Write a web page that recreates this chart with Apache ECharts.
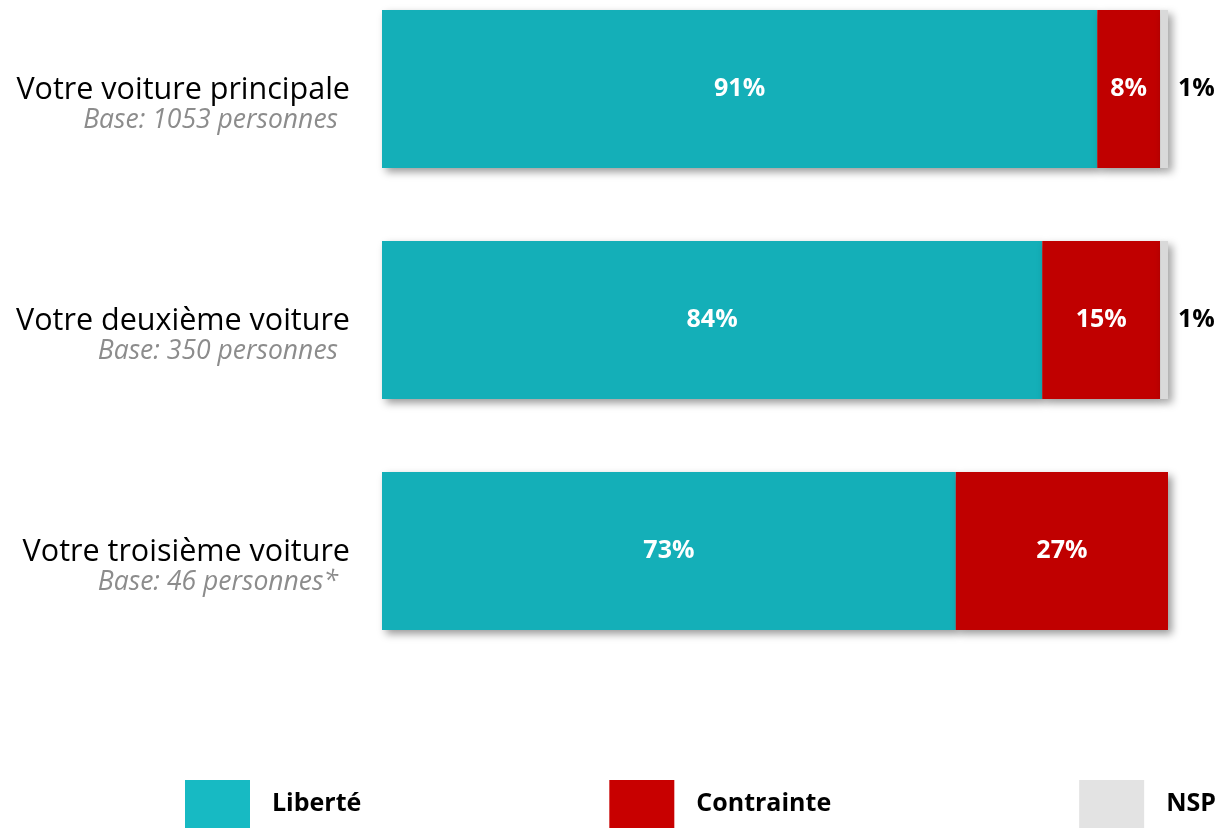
<!DOCTYPE html>
<html>
<head>
<meta charset="utf-8">
<script src="https://cdn.jsdelivr.net/npm/echarts@6/dist/echarts.min.js"></script>
<style>
  html, body { margin: 0; padding: 0; background: #fff; }
  #chart { width: 1218px; height: 830px; }
</style>
</head>
<body>
<div id="chart"></div>
<script>
// categories (top to bottom)
var voitures = ['Votre voiture principale', 'Votre deuxième voiture', 'Votre troisième voiture'];
var bases = ['Base: 1053 personnes', 'Base: 350 personnes', 'Base: 46 personnes*'];
var liberte = [91, 84, 73];
var contrainte = [8, 15, 27];
var nsp = [1, 1, null];

var FONT = 'Open Sans';
var shadow = {
  shadowBlur: 8,
  shadowOffsetX: 4,
  shadowOffsetY: 4,
  shadowColor: 'rgba(0,0,0,0.4)'
};

var chart = echarts.init(document.getElementById('chart'));
window.addEventListener('resize', () => { chart.resize(); });

chart.setOption({
  animation: false,
  grid: {
    left: 382,
    right: 50,
    top: -26.5,
    height: 693,
    containLabel: false,
    outerBoundsMode: 'none'
  },
  xAxis: {
    type: 'value',
    min: 0,
    max: 100,
    show: false
  },
  yAxis: {
    type: 'category',
    inverse: true,
    data: voitures,
    axisLine: { show: false },
    axisTick: { show: false },
    splitLine: { show: false },
    axisLabel: {
      margin: 32,
      padding: [32, 0, 0, 0],
      formatter: function (val, idx) {
        return '{a|' + val + '}\n{b|' + bases[idx] + '}';
      },
      rich: {
        a: { fontFamily: FONT, fontSize: 30.5, color: '#000', lineHeight: 30, align: 'right' },
        b: { fontFamily: FONT, fontSize: 26.5, fontStyle: 'italic', color: '#8c8c8c', lineHeight: 30, align: 'right', padding: [0, 12, 0, 0] }
      }
    }
  },
  legend: {
    left: 180,
    top: 775,
    width: 1400,
    itemWidth: 65,
    itemHeight: 48,
    itemGap: 248,
    icon: 'rect',
    textStyle: { fontFamily: FONT, fontSize: 25, fontWeight: 'bold', color: '#000', padding: [4, 0, 0, 17] },
    data: [
      { name: 'Liberté', itemStyle: { color: '#17BAC3' } },
      { name: 'Contrainte', itemStyle: { color: '#C80000' } },
      { name: 'NSP', itemStyle: { color: '#E3E3E3' } }
    ]
  },
  series: [
    {
      name: 'Liberté',
      type: 'bar',
      stack: 'total',
      barWidth: 158,
      data: liberte,
      itemStyle: Object.assign({ color: '#14AFB8' }, shadow),
      label: {
        show: true,
        position: 'inside',
        formatter: '{c}%',
        color: '#fff',
        fontFamily: FONT,
        fontSize: 25,
        fontWeight: 'bold'
      }
    },
    {
      name: 'Contrainte',
      type: 'bar',
      stack: 'total',
      barWidth: 158,
      data: contrainte,
      itemStyle: Object.assign({ color: '#C00000' }, shadow),
      label: {
        show: true,
        position: 'inside',
        formatter: '{c}%',
        color: '#fff',
        fontFamily: FONT,
        fontSize: 25,
        fontWeight: 'bold'
      }
    },
    {
      name: 'NSP',
      type: 'bar',
      stack: 'total',
      barWidth: 158,
      data: nsp,
      itemStyle: Object.assign({ color: '#D9D9D9' }, shadow),
      label: {
        show: true,
        position: 'right',
        distance: 10,
        formatter: '{c}%',
        color: '#000',
        fontFamily: FONT,
        fontSize: 25,
        fontWeight: 'bold'
      }
    }
  ]
});
</script>
</body>
</html>
